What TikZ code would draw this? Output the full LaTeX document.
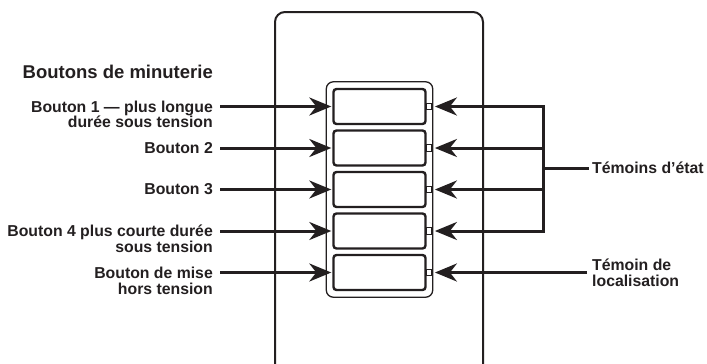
\documentclass[tikz,border=0pt]{standalone}
\usepackage{fontspec}
\setmainfont{Liberation Sans}
\definecolor{ink1}{RGB}{35, 31, 32}
\usetikzlibrary{arrows.meta, positioning, calc, fit}

\begin{document}
\begin{tikzpicture}[x=1pt, y=-1pt,
  lbl/.style={inner sep=0pt, text=ink1, font=\fontsize{15.8}{15.5}\selectfont\bfseries},
  btn/.style={draw=ink1, line width=2.4pt, rounded corners=3pt, minimum width=92pt, minimum height=35pt, inner sep=0pt},
  led/.style={draw=ink1, line width=1.2pt, minimum width=4.5pt, minimum height=6.5pt, inner sep=0pt},
  arw/.style={draw=ink1, line width=3pt, -{Stealth[length=22pt, width=18pt, inset=7pt]}},
  bar/.style={draw=ink1, line width=3pt, line cap=rect}]

  \useasboundingbox (0,0) rectangle (707,364);

  % wall plate, cut by the page bottom
  \begin{scope}
    \clip (0,0) rectangle (707,364);
    \draw[ink1, line width=2pt, rounded corners=10pt] (275,12) rectangle (483,385);
  \end{scope}

  % buttons with their lamps
  \foreach \i/\y in {1/106.5, 2/148, 3/189.5, 4/231, 5/272.5} {
    \node[btn] (b\i) at (379.5,\y) {};
    \node[led, anchor=west] (led\i) at ([xshift=-0.5pt]b\i.east) {};
  }
  \node[draw=ink1, line width=1.3pt, rounded corners=7pt, inner sep=6pt, fit=(b1)(b5)] (frame) {};

  % left side
  \node[inner sep=0pt, text=ink1, font=\fontsize{18.5}{20}\selectfont\bfseries, anchor=east] (title) at (213,72) {Boutons de minuterie};
  \node[lbl, anchor=base east, align=right] (l1) at (213,127.5) {Bouton 1 — plus longue\\durée sous tension};
  \node[lbl, anchor=east] (l2) at (213,148) {Bouton 2};
  \node[lbl, anchor=east] (l3) at (213,189.5) {Bouton 3};
  \node[lbl, anchor=base east, align=right] (l4) at (213,252) {Bouton 4 plus courte durée\\sous tension};
  \node[lbl, anchor=base east, align=right] (l5) at (213,294) {Bouton de mise\\hors tension};

  \foreach \i in {1,...,5}
    \draw[arw] ($(l\i.east |- b\i.west)+(7,0)$) -- ([xshift=-1pt]b\i.west);

  % right side
  \coordinate (jt) at (543,168);
  \foreach \i in {1,...,4}
    \draw[arw] (led\i.east -| jt) -- ([xshift=3pt]led\i.east);
  \draw[bar] (led1.east -| jt) -- (led4.east -| jt);

  \node[lbl, anchor=west] (etat) at (592,168) {Témoins d’état};
  \draw[bar] (jt) -- ([xshift=-5pt]etat.west);

  \node[lbl, anchor=west, align=left] (loc) at (592,273) {Témoin de\\localisation};
  \draw[arw] ($(loc.west |- led5.east)+(-5,0)$) -- ([xshift=3pt]led5.east);
\end{tikzpicture}
\end{document}
